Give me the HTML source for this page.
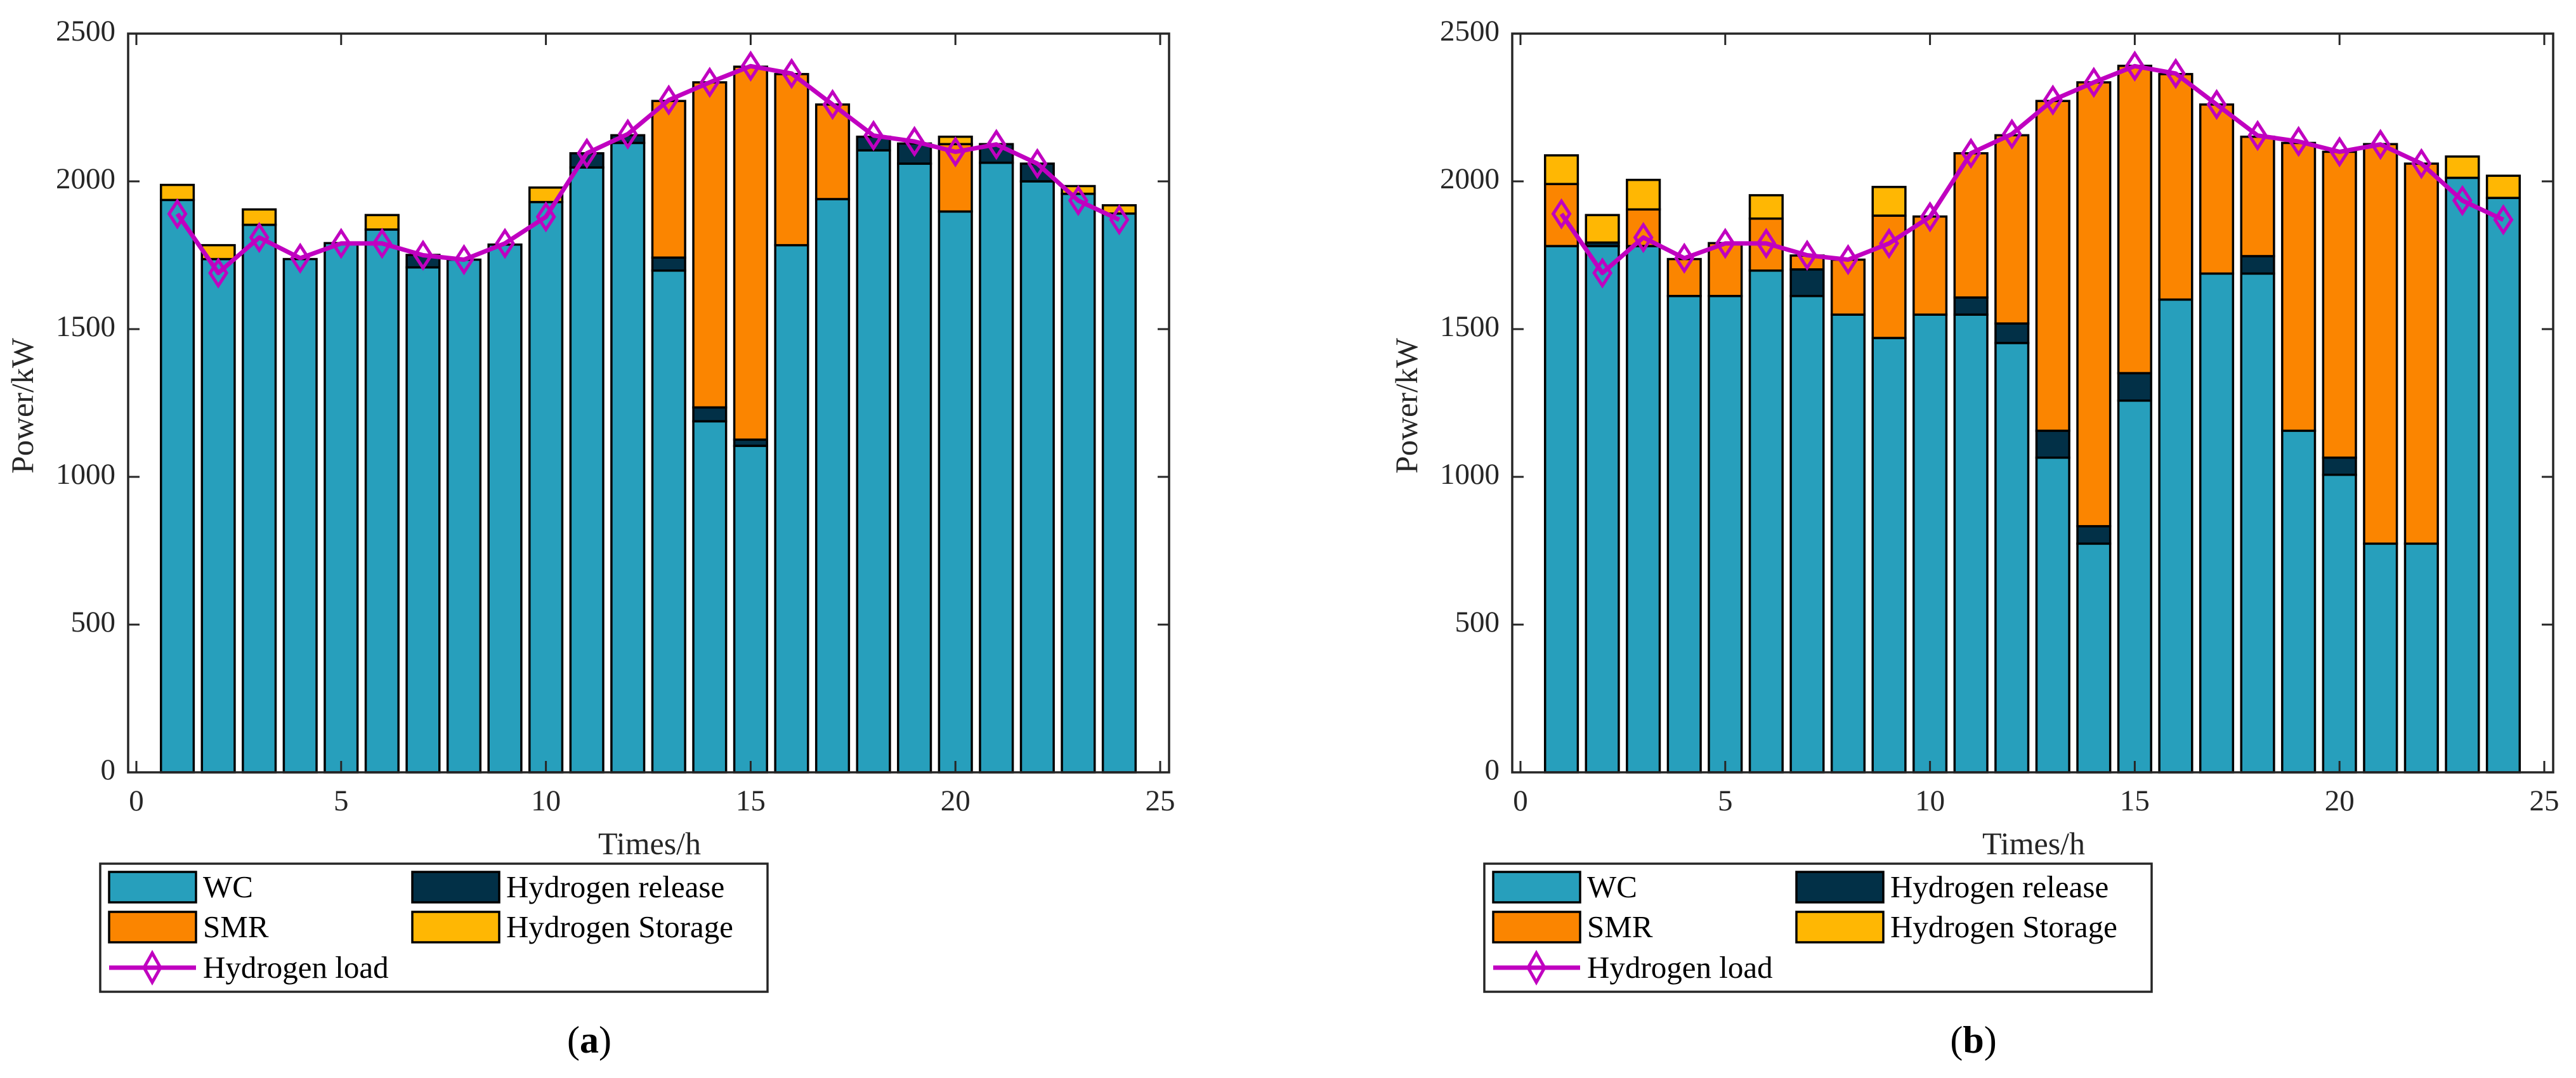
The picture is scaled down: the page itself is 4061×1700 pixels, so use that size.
<!DOCTYPE html>
<html><head><meta charset="utf-8"><style>
html,body{margin:0;padding:0;background:#fff;}
svg{display:block;font-family:"Liberation Serif",serif;}
</style></head><body>
<svg id="chart" width="4061" height="1700" viewBox="0 0 4061 1700" xmlns="http://www.w3.org/2000/svg"></svg>
<script>
const hours = [1,2,3,4,5,6,7,8,9,10,11,12,13,14,15,16,17,18,19,20,21,22,23,24];
const loadVals = [1890,1690,1810,1740,1790,1790,1750,1735,1790,1880,2095,2160,2275,2335,2390,2365,2260,2155,2135,2100,2125,2060,1935,1870];
const aWC = [1937,1737,1853,1737,1791,1837,1709,1735,1786,1930,2047,2130,1698,1188,1105,1784,1940,2105,2060,1898,2063,2000,1958,1891];
const aRelease = [0,0,0,0,0,0,42,0,0,0,48,26,44,47,21,0,0,46,68,0,63,60,0,0];
const aSMR = [0,0,0,0,0,0,0,0,0,0,0,0,530,1100,1262,579,320,0,0,228,0,0,0,0];
const aStorage = [51,47,52,0,0,49,0,0,0,49,0,0,0,0,0,0,0,0,0,25,0,0,26,28];
const bWC = [1781,1781,1781,1612,1612,1698,1612,1549,1470,1549,1549,1453,1065,774,1258,1600,1688,1688,1156,1007,774,774,2012,1944];
const bRelease = [0,12,0,0,0,0,90,0,0,0,58,66,91,59,93,0,0,59,0,58,0,0,0,0];
const bSMR = [210,0,124,125,179,176,47,186,414,332,488,637,1116,1502,1040,763,572,404,974,1035,1352,1286,0,0];
const bStorage = [97,93,100,0,0,79,0,0,97,0,0,0,0,0,0,0,0,0,0,0,0,0,72,75];
const xTicks = [0,5,10,15,20,25];
const yTicks = [0,500,1000,1500,2000,2500];
const seriesNames = ["WC","Hydrogen release","SMR","Hydrogen Storage"];
const seriesColors = ["#279fbc","#023047","#fb8500","#ffb703"];

const NS="http://www.w3.org/2000/svg";
const svg=document.getElementById('chart');
function mk(tag,attrs,parent){const e=document.createElementNS(NS,tag);for(const k in attrs)e.setAttribute(k,attrs[k]);(parent||svg).appendChild(e);return e;}

function panel(ox,series,label,tag){
  const g=mk('g',{});
  
  
  const L=202+ox,R=1843+ox,T=53,B=1218;
  const X=v=>215+ox+v*64.56;
  const Y=v=>B-v*(1165/2500);
  hours.forEach((h,i)=>{
    let base=0;
    series.forEach((s,k)=>{
      const v=s[i]; if(v<=0) return;
      const r=mk('rect',{x:X(h-0.4),y:Y(base+v),width:0.8*64.56,height:Y(base)-Y(base+v),fill:seriesColors[k],stroke:'#000','stroke-width':3.5},g);
      
      
      base+=v;
    });
  });
  const pts=hours.map((h,i)=>X(h)+','+Y(loadVals[i])).join(' ');
  const pl=mk('polyline',{points:pts,fill:'none',stroke:'#c000c0','stroke-width':7,'stroke-linejoin':'round'},g);
  
  
  hours.forEach((h,i)=>{
    const cx=X(h),cy=Y(loadVals[i]);
    const d=mk('polygon',{points:`${cx},${cy-20} ${cx+13},${cy} ${cx},${cy+20} ${cx-13},${cy}`,fill:'none',stroke:'#c000c0','stroke-width':5},g);
    
    
  });
  const box=mk('rect',{x:L,y:T,width:R-L,height:B-T,fill:'none',stroke:'#262626','stroke-width':3.5},g);
  
  
  xTicks.forEach(t=>{
    const x=X(t);
    mk('line',{x1:x,y1:B,x2:x,y2:B-18,stroke:'#262626','stroke-width':3},g);
    mk('line',{x1:x,y1:T,x2:x,y2:T+18,stroke:'#262626','stroke-width':3},g);
    const tx=mk('text',{x:x,y:1278,'font-size':47,'text-anchor':'middle',fill:'#262626'},g);
    tx.textContent=t;
    
    
  });
  yTicks.forEach(t=>{
    const y=Y(t);
    mk('line',{x1:L,y1:y,x2:L+18,y2:y,stroke:'#262626','stroke-width':3},g);
    mk('line',{x1:R,y1:y,x2:R-18,y2:y,stroke:'#262626','stroke-width':3},g);
    const ty=mk('text',{x:L-20,y:y+11,'font-size':47,'text-anchor':'end',fill:'#262626'},g);
    ty.textContent=t;
    
    
  });
  const xt=mk('text',{x:1024+ox,y:1347,'font-size':50,'text-anchor':'middle',fill:'#262626'},g);
  xt.textContent='Times/h';
  
  
  const yt=mk('text',{x:0,y:0,'font-size':50,'text-anchor':'middle',fill:'#262626',transform:`translate(${52+ox},640) rotate(-90)`},g);
  yt.textContent='Power/kW';
  
  
  const lg=mk('g',{},g);
  
  
  mk('rect',{x:158+ox,y:1362,width:1052,height:202,fill:'#fff',stroke:'#262626','stroke-width':3.5},lg);
  const pos=[[172,1375],[650,1375],[172,1438],[650,1438]];
  [0,1,2,3].forEach((k,j)=>{
    const [px,py]=pos[j];
    const e=mk('g',{},lg);
    
    
    mk('rect',{x:px+ox,y:py,width:137,height:48,fill:seriesColors[k],stroke:'#000','stroke-width':3.5},e);
    const t=mk('text',{x:px+148+ox,y:py+40,'font-size':49,fill:'#000'},e);
    t.textContent=seriesNames[k];
  });
  const le=mk('g',{},lg);
  
  
  mk('line',{x1:172+ox,y1:1526,x2:309+ox,y2:1526,stroke:'#c000c0','stroke-width':7},le);
  const cx=240+ox;
  mk('polygon',{points:`${cx},1503 ${cx+13},1526 ${cx},1549 ${cx-13},1526`,fill:'none',stroke:'#c000c0','stroke-width':5},le);
  const lt=mk('text',{x:320+ox,y:1542,'font-size':49,fill:'#000'},le);
  lt.textContent='Hydrogen load';
  const cap=mk('text',{x:929+ox,y:1660,'font-size':60,'text-anchor':'middle',fill:'#000'},g);
  cap.innerHTML='(<tspan font-weight="bold">'+label+'</tspan>)';
  
  
}
panel(0,[aWC,aRelease,aSMR,aStorage],'a','a');
panel(2182,[bWC,bRelease,bSMR,bStorage],'b','b');
</script>
</body></html>
